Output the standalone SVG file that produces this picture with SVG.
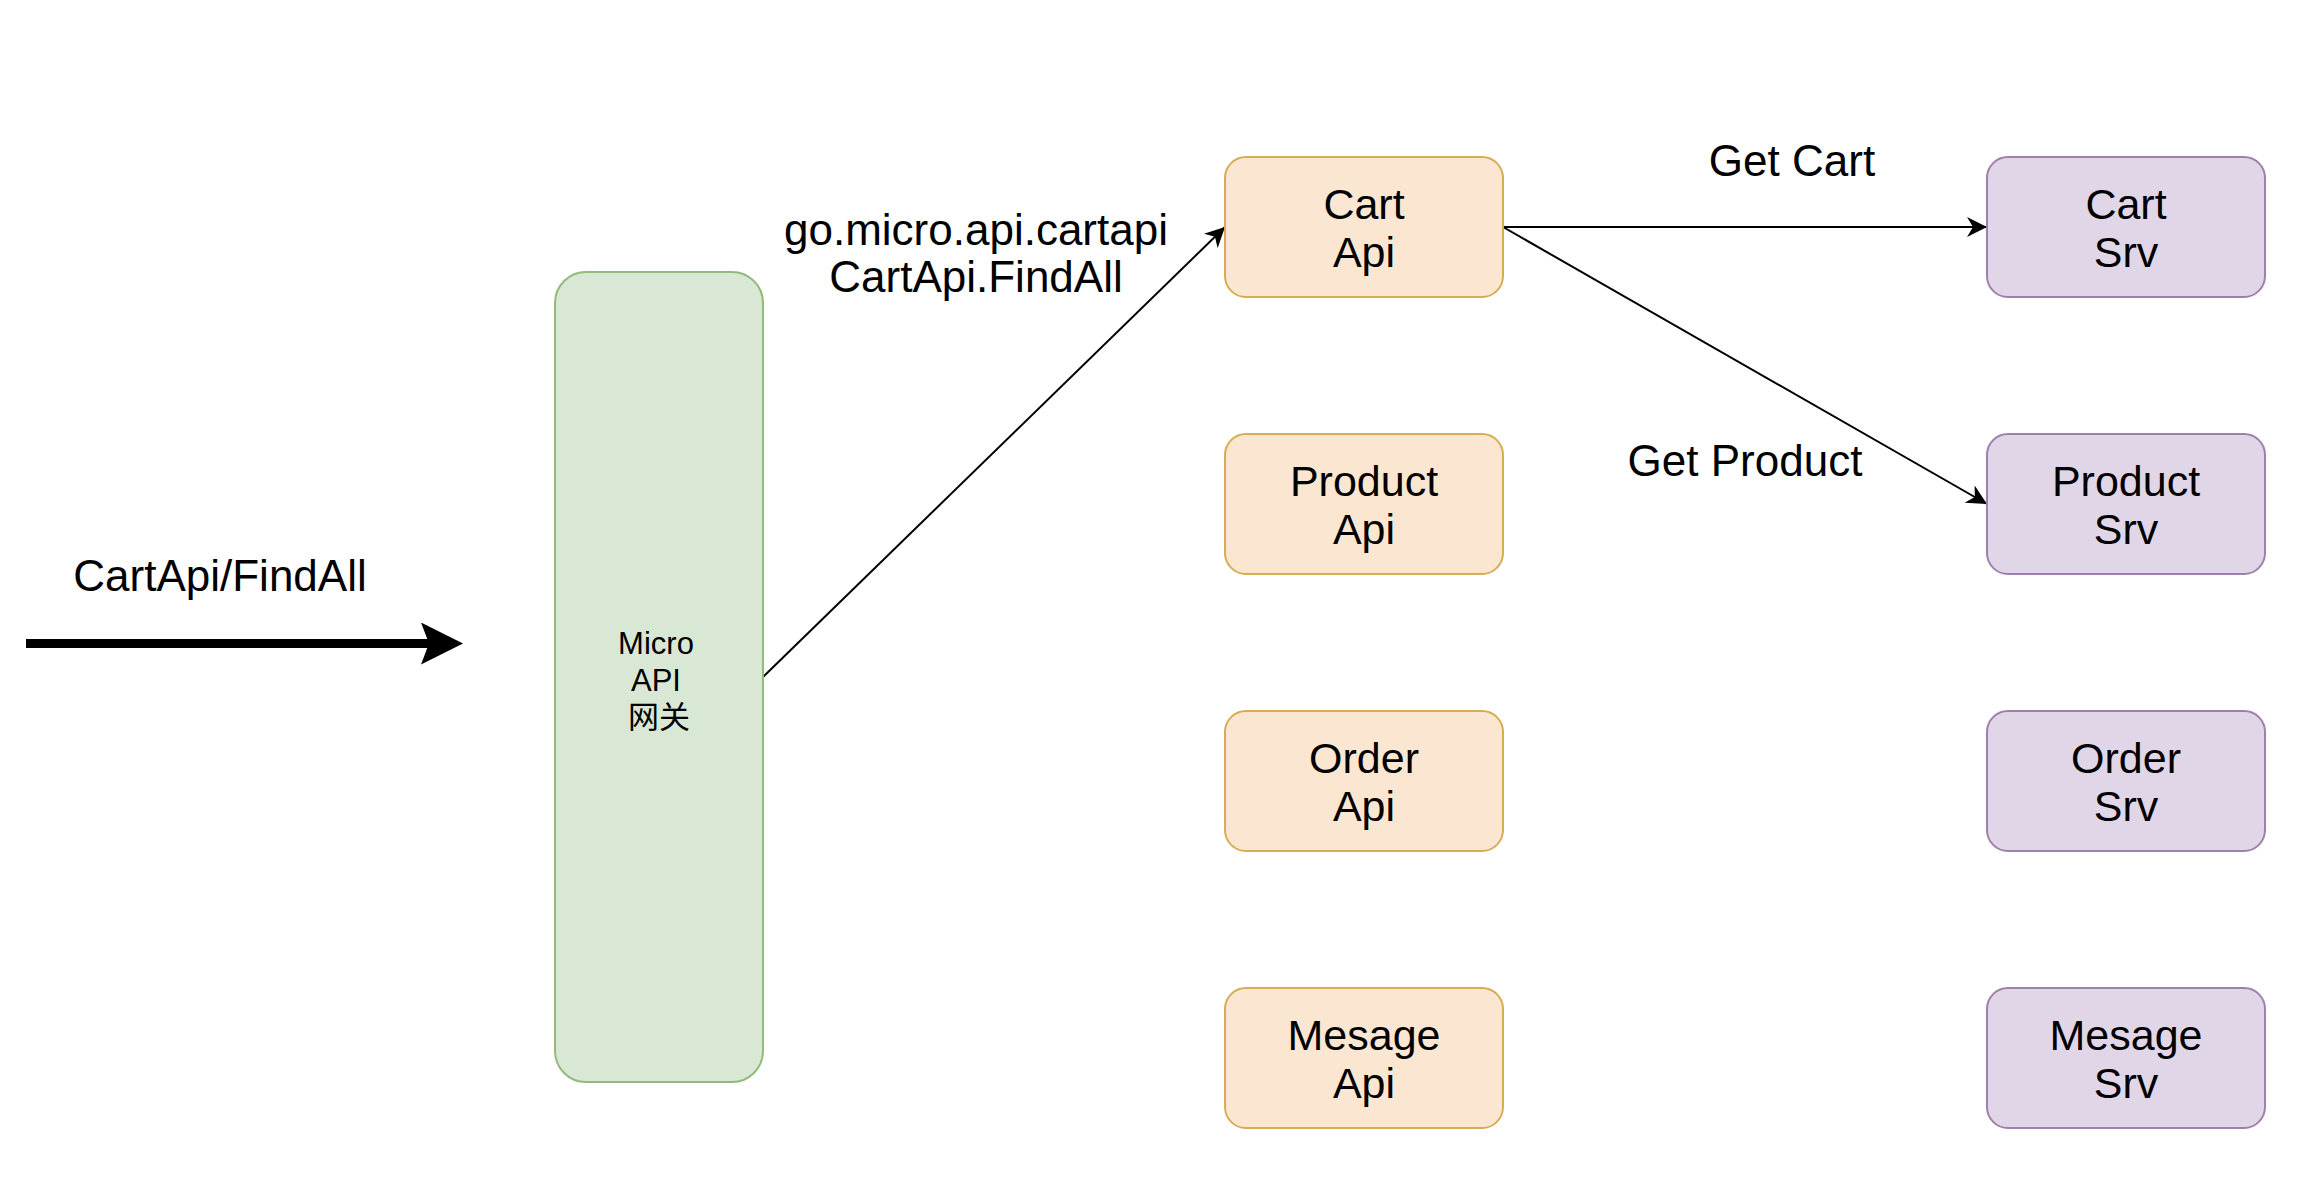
<svg xmlns="http://www.w3.org/2000/svg" width="2300" height="1188" viewBox="0 0 2300 1188">
<defs>
<style>
text{font-family:"Liberation Sans",Arial,"Noto Sans CJK SC",sans-serif;fill:#000;text-anchor:middle}
.lbl{font-size:44px}
.nt{font-size:43px}
.gw{font-size:31px}
.api rect{fill:#fbe6d1;stroke:#d6ad55;stroke-width:2}
.srv rect{fill:#e1d6e7;stroke:#9d80ad;stroke-width:2}
.gate rect{fill:#d9e7d5;stroke:#92bb7b;stroke-width:2}
.edge{stroke:#000;stroke-width:2;fill:none}
</style>
<marker id="ah" markerUnits="userSpaceOnUse" markerWidth="20" markerHeight="20" viewBox="0 0 20 20" refX="20" refY="10" orient="auto">
<path d="M0,0 L20,10 L0,20 L6,10 Z" fill="#000"/>
</marker>
<marker id="ahbig" markerUnits="userSpaceOnUse" markerWidth="42" markerHeight="42" viewBox="0 0 42 42" refX="10" refY="21" orient="auto">
<path d="M0,0 L42,21 L0,42 L8,21 Z" fill="#000"/>
</marker>
</defs>
<rect width="2300" height="1188" fill="#fff"/>

<g id="connectors">
<line x1="26" y1="643.5" x2="431" y2="643.5" stroke="#000" stroke-width="9" marker-end="url(#ahbig)"/>
<line class="edge" x1="763" y1="677" x2="1225" y2="227" marker-end="url(#ah)"/>
<line class="edge" x1="1503" y1="227" x2="1987" y2="227" marker-end="url(#ah)"/>
<line class="edge" x1="1503" y1="227" x2="1987" y2="504" marker-end="url(#ah)"/>
<text class="lbl" x="220" y="591">CartApi/FindAll</text>
<text class="lbl" x="976" y="245">go.micro.api.cartapi</text>
<text class="lbl" x="976" y="292">CartApi.FindAll</text>
<text class="lbl" x="1792" y="176">Get Cart</text>
<text class="lbl" x="1745" y="476">Get Product</text>
</g>

<g id="gateway" class="gate">
<rect x="555" y="272" width="208" height="810" rx="31" ry="31"/>
<text class="gw" x="656" y="654">Micro</text>
<text class="gw" x="656" y="691">API</text>
<text class="gw" x="659" y="728">网关</text>
</g>

<g id="cart-api" class="api">
<rect x="1225" y="157" width="278" height="140" rx="21" ry="21"/>
<text class="nt" x="1364" y="219">Cart</text>
<text class="nt" x="1364" y="267">Api</text>
</g>
<g id="product-api" class="api">
<rect x="1225" y="434" width="278" height="140" rx="21" ry="21"/>
<text class="nt" x="1364" y="496">Product</text>
<text class="nt" x="1364" y="544">Api</text>
</g>
<g id="order-api" class="api">
<rect x="1225" y="711" width="278" height="140" rx="21" ry="21"/>
<text class="nt" x="1364" y="773">Order</text>
<text class="nt" x="1364" y="821">Api</text>
</g>
<g id="mesage-api" class="api">
<rect x="1225" y="988" width="278" height="140" rx="21" ry="21"/>
<text class="nt" x="1364" y="1050">Mesage</text>
<text class="nt" x="1364" y="1098">Api</text>
</g>

<g id="cart-srv" class="srv">
<rect x="1987" y="157" width="278" height="140" rx="21" ry="21"/>
<text class="nt" x="2126" y="219">Cart</text>
<text class="nt" x="2126" y="267">Srv</text>
</g>
<g id="product-srv" class="srv">
<rect x="1987" y="434" width="278" height="140" rx="21" ry="21"/>
<text class="nt" x="2126" y="496">Product</text>
<text class="nt" x="2126" y="544">Srv</text>
</g>
<g id="order-srv" class="srv">
<rect x="1987" y="711" width="278" height="140" rx="21" ry="21"/>
<text class="nt" x="2126" y="773">Order</text>
<text class="nt" x="2126" y="821">Srv</text>
</g>
<g id="mesage-srv" class="srv">
<rect x="1987" y="988" width="278" height="140" rx="21" ry="21"/>
<text class="nt" x="2126" y="1050">Mesage</text>
<text class="nt" x="2126" y="1098">Srv</text>
</g>
</svg>
